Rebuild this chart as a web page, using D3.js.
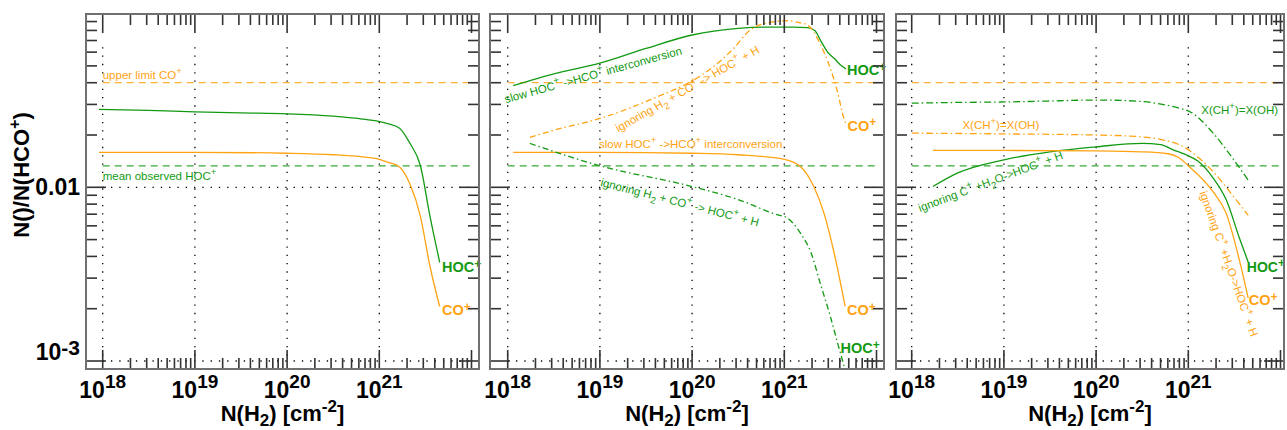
<!DOCTYPE html>
<html>
<head>
<meta charset="utf-8">
<script src="https://cdn.jsdelivr.net/npm/d3@7"></script>
<style>
  body { margin: 0; background: #fff; }
  svg { display: block; font-family: "Liberation Sans", Arial, sans-serif; }
</style>
</head>
<body>
<svg id="chart" width="1287" height="430"></svg>
<script>
// ---------- data: [log10 N(H2), N()/N(HCO+)] ----------
// panel 1 : standard model
const p1Hoc = [[17.96,0.0281],[18.5,0.0277],[19,0.0272],[19.5,0.0268],[20,0.0265],[20.5,0.0257],
  [20.8,0.0248],[21,0.0239],[21.1,0.0232],[21.22,0.0219],[21.33,0.018],[21.446,0.0133],[21.55,0.0068],[21.655,0.0037]];
const p1Co = [[17.96,0.0159],[19,0.0159],[20,0.0157],[20.5,0.0154],[20.8,0.015],[21,0.0145],
  [21.1,0.0139],[21.22,0.0131],[21.33,0.0105],[21.446,0.0068],[21.55,0.0035],[21.655,0.00206]];

// panel 2 : slow interconversion (solid) / ignoring H2 + CO+ (dash-dot)
const p2HocSlow = [[18.06,0.0385],[18.5,0.045],[19,0.0518],[19.5,0.063],[20,0.0753],[20.5,0.0822],
  [20.8,0.0836],[21.1,0.0836],[21.25,0.083],[21.33,0.08],[21.4,0.069],[21.47,0.06],[21.54,0.0553],[21.61,0.0506],[21.67,0.048]];
const p2CoSlow = [[18.06,0.0159],[19,0.0159],[20,0.0157],[20.5,0.0154],[21,0.0145],[21.18,0.0131],
  [21.32,0.0101],[21.43,0.0071],[21.54,0.0042],[21.61,0.0028],[21.66,0.00206]];
const p2CoIgn = [[18.24,0.0194],[18.5,0.0213],[19,0.0249],[19.63,0.0333],[20.02,0.0415],[20.23,0.0494],
  [20.45,0.063],[20.63,0.0805],[20.85,0.089],[21.03,0.091],[21.15,0.089],[21.25,0.0859],[21.395,0.066],
  [21.54,0.0415],[21.59,0.0333],[21.63,0.0267],[21.665,0.0234]];
const p2HocIgn = [[18.24,0.0179],[19,0.0133],[20,0.0101],[20.5,0.0085],[20.95,0.0069],[21,0.0068],
  [21.18,0.0054],[21.29,0.0042],[21.39,0.0028],[21.5,0.0018],[21.58,0.00126],[21.65,0.00093],[21.68,0.00082]];

// panel 3 : ignoring C+ + H2O (solid) / X(CH+)=X(OH) (dash-dot)
const p3HocIgn = [[18.23,0.0101],[18.5,0.0121],[19,0.0144],[19.5,0.016],[20,0.0171],[20.5,0.0179],
  [20.7,0.0176],[20.83,0.0165],[21,0.0152],[21.1,0.0142],[21.27,0.0113],[21.41,0.0085],[21.56,0.005],[21.65,0.0037]];
const p3CoIgn = [[18.23,0.0163],[19,0.0163],[20,0.0162],[20.5,0.016],[20.78,0.0156],[20.9,0.0148],
  [21,0.0133],[21.27,0.0094],[21.41,0.0071],[21.56,0.0037],[21.65,0.0023]];
const p3HocCh = [[18,0.0305],[18.5,0.0308],[19,0.031],[19.5,0.0314],[20,0.0318],[20.5,0.0312],
  [20.75,0.0298],[20.91,0.0285],[21.02,0.0272],[21.27,0.0205],[21.48,0.0147],[21.65,0.011]];
const p3CoCh = [[18,0.0205],[19,0.0203],[20,0.02],[20.5,0.0195],[20.73,0.0187],[20.91,0.0175],
  [21.27,0.0123],[21.48,0.009],[21.65,0.0069]];

// observed reference levels
const upperLimitCo = 0.04;
const meanObservedHoc = 0.0133;

// axis ticks and texts
const xDecades = [18, 19, 20, 21, 22];
const xLabelDecades = [18, 19, 20, 21];
const yDecades = [-3, -2, -1];
const yTickLabels = [[0.01, "0.01"], [0.001, "10^{-3}"]];
const xTitle = "N(H_2) [cm^{-2}]";
const yTitle = "N()/N(HCO^+)";

const txtUpper = "upper limit CO^+";
const txtMean = "mean observed HOC^+";
const txtSlow = "slow HOC^+ ->HCO^+ interconversion";
const txtIgnH2 = "ignoring H_2 + CO^+ -> HOC^+ + H";
const txtIgnC = "ignoring C^+ +H_2O->HOC^+ + H";
const txtCh = "X(CH^+)=X(OH)";
const txtHoc = "HOC^+";
const txtCo = "CO^+";

// ---------- layout ----------
const GREEN = "#139a13", ORANGE = "#ffa312";
const DECADE = 92.2;
const frameTop = 14, frameBottom = 369;
const svg = d3.select("#chart");

const y = d3.scaleLog().domain([1e-3, 1e-2]).range([361, 187.3]);

// rich text: ^x / ^{..} superscript, _x / _{..} subscript
function rich(sel, str, o) {
  const size = o.size, sup = o.sup || size * 0.8, rise = o.rise || size * 0.45, drop = o.drop || size * 0.4;
  const re = /\^\{([^}]*)\}|_\{([^}]*)\}|\^(.)|_(.)|([^^_]+)/g;
  let m, cur = 0;
  sel.attr("font-size", size);
  while ((m = re.exec(str))) {
    let t, target, fs;
    if (m[1] !== undefined || m[3] !== undefined) { t = m[1] ?? m[3]; target = -rise; fs = sup; }
    else if (m[2] !== undefined || m[4] !== undefined) { t = m[2] ?? m[4]; target = drop; fs = sup; }
    else { t = m[5]; target = 0; fs = size; }
    sel.append("tspan").attr("dy", target - cur).attr("font-size", fs).text(t);
    cur = target;
  }
  return sel;
}

const panels = [
  { left: 86, right: 479, x18: 102.7,
    curves: [
      { data: p1Hoc, color: GREEN }, { data: p1Co, color: ORANGE } ],
    labels: [
      { t: txtUpper, at: [18, 0.042], color: ORANGE },
      { t: txtMean, at: [18, 0.011], color: GREEN },
      { t: txtHoc, at: [21.68, 0.00325], color: GREEN, bold: true },
      { t: txtCo, at: [21.68, 0.00184], color: ORANGE, bold: true } ] },
  { left: 490, right: 884, x18: 507.7,
    curves: [
      { data: p2HocSlow, color: GREEN }, { data: p2CoSlow, color: ORANGE },
      { data: p2CoIgn, color: ORANGE, dash: "6,3,1.5,3" },
      { data: p2HocIgn, color: GREEN, dash: "6,3,1.5,3" } ],
    labels: [
      { t: txtSlow, at: [17.98, 0.0305], color: GREEN, rot: -15.5 },
      { t: txtIgnH2, at: [19.2, 0.0207], color: ORANGE, rot: -29.5 },
      { t: txtSlow, at: [18.99, 0.0168], color: ORANGE },
      { t: txtIgnH2, at: [19.0, 0.0102], color: GREEN, rot: 14.5 },
      { t: txtHoc, at: [21.68, 0.0443], color: GREEN, bold: true },
      { t: txtCo, at: [21.685, 0.0212], color: ORANGE, bold: true },
      { t: txtCo, at: [21.68, 0.00184], color: ORANGE, bold: true },
      { t: txtHoc, at: [21.61, 0.00111], color: GREEN, bold: true } ] },
  { left: 896, right: 1284, x18: 911.7,
    curves: [
      { data: p3HocCh, color: GREEN, dash: "7,3,1.5,3" },
      { data: p3CoCh, color: ORANGE, dash: "7,3,1.5,3" },
      { data: p3HocIgn, color: GREEN }, { data: p3CoIgn, color: ORANGE } ],
    labels: [
      { t: txtCh, at: [21.14, 0.0263], color: GREEN },
      { t: txtCh, at: [18.55, 0.0216], color: ORANGE },
      { t: txtIgnC, at: [18.09, 0.0072], color: GREEN, rot: -20.5 },
      { t: txtIgnC, at: [21.12, 0.0093], color: ORANGE, rot: 70.4 },
      { t: txtHoc, at: [21.635, 0.00327], color: GREEN, bold: true, size: 14 },
      { t: txtCo, at: [21.655, 0.0021], color: ORANGE, bold: true } ] }
];

panels.forEach((p, i) => {
  const x = d3.scaleLog().domain([1e18, 1e22]).range([p.x18, p.x18 + 4 * DECADE]);
  const g = svg.append("g");

  svg.append("clipPath").attr("id", "clip" + i).append("rect")
    .attr("x", p.left).attr("y", frameTop)
    .attr("width", p.right - p.left).attr("height", frameBottom - frameTop);
  const plot = g.append("g").attr("clip-path", `url(#clip${i})`);

  // dotted grid
  xLabelDecades.forEach(e => {
    plot.append("line").attr("x1", x(10 ** e)).attr("x2", x(10 ** e))
      .attr("y1", y(0.064)).attr("y2", y(1e-3))
      .attr("stroke", "#000").attr("stroke-width", 1.3).attr("stroke-dasharray", "1.3,7");
  });
  [1e-2, 1e-3].forEach(v => {
    plot.append("line").attr("x1", x(1e18)).attr("x2", x(1e22))
      .attr("y1", y(v)).attr("y2", y(v))
      .attr("stroke", "#000").attr("stroke-width", 1.3).attr("stroke-dasharray", "1.3,7");
  });

  // observed levels
  [[upperLimitCo, ORANGE], [meanObservedHoc, GREEN]].forEach(([v, c]) => {
    plot.append("line").attr("x1", x(1e18)).attr("x2", x(1e22))
      .attr("y1", y(v)).attr("y2", y(v))
      .attr("stroke", c).attr("stroke-width", 1.3).attr("stroke-dasharray", "7,5").attr("opacity", 0.85);
  });

  // model curves
  const line = d3.line().x(d => x(10 ** d[0])).y(d => y(d[1])).curve(d3.curveMonotoneX);
  p.curves.forEach(c => {
    plot.append("path").attr("d", line(c.data)).attr("fill", "none")
      .attr("stroke", c.color).attr("stroke-width", 1.3)
      .attr("stroke-dasharray", c.dash || null);
  });

  // curve labels
  p.labels.forEach(l => {
    const t = g.append("text")
      .attr("transform", `translate(${x(10 ** l.at[0])},${y(l.at[1])}) rotate(${l.rot || 0})`)
      .attr("fill", l.color).attr("font-weight", l.bold ? "bold" : null);
    if (l.bold) rich(t, l.t, { size: l.size || 14.5, sup: 12, rise: 4.5 });
    else rich(t, l.t, { size: 11.5, sup: 9.5, rise: 5.5, drop: 4 });
  });

  // ticks
  const tk = g.append("g").attr("stroke", "#333").attr("stroke-width", 1.6);
  xDecades.forEach(e => {
    for (let m = 1; m <= 9; m++) {
      const v = m * 10 ** e, px = x(v);
      if (px > p.right - 1) break;
      const len = m === 1 ? 19 : 11;
      tk.append("line").attr("x1", px).attr("x2", px).attr("y1", frameTop).attr("y2", frameTop + len);
      tk.append("line").attr("x1", px).attr("x2", px).attr("y1", frameBottom).attr("y2", frameBottom - len);
    }
  });
  yDecades.forEach(e => {
    for (let m = 1; m <= 9; m++) {
      const v = m * 10 ** e, py = y(v);
      if (py < frameTop + 1) break;
      const len = m === 1 ? 20 : 11;
      tk.append("line").attr("x1", p.left).attr("x2", p.left + len).attr("y1", py).attr("y2", py);
      tk.append("line").attr("x1", p.right).attr("x2", p.right - len).attr("y1", py).attr("y2", py);
    }
  });

  // frame
  g.append("rect").attr("x", p.left).attr("y", frameTop)
    .attr("width", p.right - p.left).attr("height", frameBottom - frameTop)
    .attr("fill", "none").attr("stroke", "#707070").attr("stroke-width", 2);

  // x tick labels
  xLabelDecades.forEach(e => {
    const t = g.append("text").attr("x", x(10 ** e)).attr("y", 398)
      .attr("text-anchor", "middle").attr("font-weight", "bold").attr("fill", "#000");
    rich(t, "10^{" + e + "}", { size: 23, sup: 19, rise: 10 });
  });

  // x title
  const xt = g.append("text").attr("x", (p.left + p.right) / 2).attr("y", 421)
    .attr("text-anchor", "middle").attr("font-weight", "bold").attr("fill", "#000");
  rich(xt, xTitle, { size: 22, sup: 17, rise: 9, drop: 5 });

  // y axis on first panel only
  if (i === 0) {
    yTickLabels.forEach(([v, s], k) => {
      const t = g.append("text").attr("x", 80).attr("y", k === 0 ? y(v) + 7.7 : y(v) - 1)
        .attr("text-anchor", "end").attr("font-weight", "bold").attr("fill", "#000");
      rich(t, s, { size: 23, sup: 21, rise: 5 });
    });
    const yt = g.append("text").attr("transform", "translate(29,175) rotate(-90)")
      .attr("text-anchor", "middle").attr("font-weight", "bold").attr("fill", "#000");
    rich(yt, yTitle, { size: 22, sup: 16, rise: 9 });
  }
});
</script>
</body>
</html>
